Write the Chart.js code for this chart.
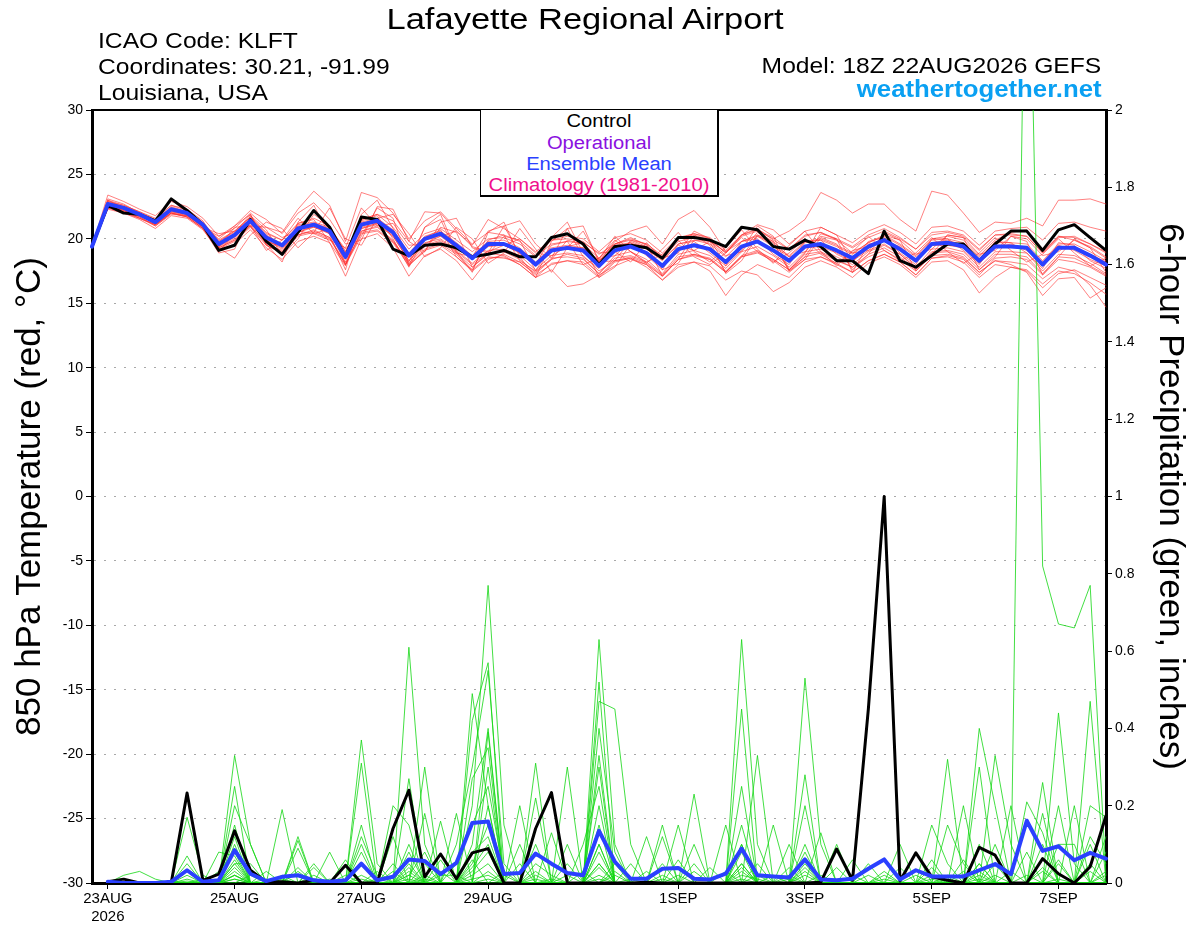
<!DOCTYPE html>
<html>
<head>
<meta charset="utf-8">
<title>Lafayette Regional Airport - GEFS 850 hPa Temperature / Precipitation</title>
<script src="https://cdn.jsdelivr.net/npm/chart.js@4.4.1/dist/chart.umd.min.js"></script>
<style>
  body { margin: 0; background: #fff; }
  #wrap { position: relative; width: 1200px; height: 927px; overflow: hidden; }
  #chart { position: absolute; left: 0; top: 0; }
  .lbl { position: absolute; font-family: "Liberation Sans", Arial, sans-serif; line-height: 1; white-space: nowrap; color: #000; }
  .l { transform-origin: left center; transform: scaleX(1.12); }
  .r { transform-origin: right center; transform: scaleX(1.12); }
  .c { transform: translateX(-50%) scaleX(1.12); }
  #legendBox { position: absolute; left: 480px; top: 110px; width: 236px; height: 85px; background: #fff;
               border-left: 1px solid #000; border-right: 2px solid #000; border-bottom: 2px solid #000; }
</style>
</head>
<body>
<div id="wrap">
  <canvas id="chart" width="1200" height="927"></canvas>

  <div class="lbl" style="left:585px; top:4px; font-size:30px; transform: translateX(-50%) scaleX(1.15);">Lafayette Regional Airport</div>
  <div class="lbl l" style="left:98px; top:30px; font-size:22px;">ICAO Code: KLFT</div>
  <div class="lbl l" style="left:98px; top:56px; font-size:22px;">Coordinates: 30.21, -91.99</div>
  <div class="lbl l" style="left:98px; top:82px; font-size:22px;">Louisiana, USA</div>
  <div class="lbl r" style="right:99px; top:55px; font-size:22px;">Model: 18Z 22AUG2026 GEFS</div>
  <div class="lbl r" style="right:98px; top:78px; font-size:23px; font-weight:bold; color:#0aa0f2;">weathertogether.net</div>

  <div id="legendBox"></div>
  <div class="lbl c" style="left:599px; top:112px; font-size:18px; color:#000;">Control</div>
  <div class="lbl c" style="left:599px; top:134px; font-size:18px; color:#8a10e0;">Operational</div>
  <div class="lbl c" style="left:599px; top:155px; font-size:18px; color:#2a40ff;">Ensemble Mean</div>
  <div class="lbl c" style="left:599px; top:176px; font-size:18px; color:#f0108c;">Climatology (1981-2010)</div>
</div>

<script>
// 6-hourly steps from 18Z 22AUG2026 to 18Z 07SEP2026 (65 steps)
const startUTC = Date.UTC(2026, 7, 22, 18);
const stepCount = 65;

// date ticks on the x axis (index of the 6-hour step and its text)
const tickIndex = [1, 9, 17, 25, 37, 45, 53, 61];
const tickText = [['23AUG', '2026'], '25AUG', '27AUG', '29AUG', '1SEP', '3SEP', '5SEP', '7SEP'];

// 850 hPa temperature, deg C
const ctlTemp = [
  19.4,22.6,22.0,21.9,21.4,23.1,22.2,21.1,19.1,19.5,
  21.5,19.8,18.8,20.5,22.2,20.9,18.6,21.7,21.5,19.2,
  18.7,19.5,19.6,19.3,18.6,18.8,19.1,18.6,18.6,20.1,
  20.4,19.6,18.0,19.4,19.5,19.3,18.5,20.1,20.1,19.9,
  19.4,20.9,20.7,19.4,19.2,19.9,19.4,18.3,18.3,17.3,
  20.6,18.3,17.8,18.7,19.6,19.6,18.3,19.6,20.6,20.6,
  19.1,20.7,21.1,20.1,19.1];
const meanTemp = [
  19.4,22.7,22.4,21.9,21.3,22.3,22.0,21.1,19.6,20.3,
  21.4,20.1,19.5,20.8,21.1,20.6,18.6,21.1,21.4,20.5,
  18.7,20.0,20.4,19.5,18.5,19.6,19.6,19.1,18.0,19.1,
  19.3,19.1,17.9,19.1,19.4,18.9,17.9,19.2,19.5,19.2,
  18.2,19.4,19.8,19.1,18.3,19.4,19.6,19.1,18.5,19.4,
  19.9,19.2,18.3,19.6,19.7,19.4,18.3,19.4,19.4,19.3,
  18.0,19.3,19.3,18.7,18.0];

// ensemble member temperatures
const t01 = [19.4,23.0,22.6,22.1,21.6,22.6,22.2,21.3,19.9,20.6,21.7,20.4,19.9,21.2,21.6,21.0,19.0,21.5,21.9,20.9,19.2,20.4,20.8,19.9,19.0,20.0,20.1,19.6,18.6,19.6,19.8,19.6,18.5,19.6,19.9,19.4,18.5,19.8,20.1,19.8,19.0,20.2,20.6,20.0,20.6,21.5,23.6,23.0,22.0,22.7,22.7,21.5,20.6,23.7,23.4,22.0,20.5,21.3,21.2,21.6,21.0,23.0,23.0,23.1,22.7];
const t02 = [19.4,22.4,22.1,21.7,21.0,22.0,21.7,20.8,19.3,19.9,21.0,19.7,19.0,20.3,20.6,20.1,18.0,20.6,20.9,19.9,18.1,19.4,19.8,18.9,17.8,18.9,19.0,18.4,17.4,18.5,18.6,18.4,17.3,18.5,18.7,18.2,17.2,18.6,18.8,18.5,17.5,18.7,19.1,18.4,17.6,18.6,18.9,18.3,17.8,18.6,19.1,18.4,17.5,18.7,18.8,18.5,17.4,18.3,18.2,18.0,16.9,17.8,17.5,16.4,14.7];
const t03 = [19.4,22.9,22.5,21.8,21.2,22.5,22.1,21.0,19.5,20.1,21.3,19.9,19.2,20.5,21.0,20.4,18.2,20.8,21.2,20.2,18.3,19.7,20.0,19.1,18.1,19.1,19.2,18.7,17.6,18.7,18.9,18.7,17.5,18.3,18.5,18.0,16.8,18.0,18.2,17.5,15.6,17.2,18.0,17.5,17.0,18.2,18.6,18.0,17.4,18.3,18.8,18.2,17.2,18.5,18.7,18.4,17.2,18.5,18.6,18.4,17.2,18.4,18.2,17.8,17.1];
const t04 = [19.4,23.4,22.9,22.3,21.8,22.9,22.5,21.6,20.2,20.8,22.0,20.9,20.5,22.3,23.7,22.6,19.8,23.6,23.2,22.0,20.0,21.4,22.1,20.8,19.6,20.5,20.3,19.8,18.7,19.9,20.0,19.8,18.8,19.6,20.1,19.5,18.6,20.0,20.4,20.0,18.9,20.3,20.8,19.9,19.2,20.2,20.5,19.9,19.3,20.1,20.6,20.0,19.2,20.3,20.5,20.2,19.1,20.3,20.4,20.2,18.9,20.1,20.2,19.6,19.0];
const t05 = [19.4,22.3,22.0,21.5,20.8,21.8,21.6,20.7,19.1,19.6,20.7,19.3,18.4,19.8,20.2,19.7,17.1,20.0,20.4,19.3,17.1,18.7,19.2,18.3,16.8,18.4,18.8,18.2,17.3,18.4,18.8,18.5,17.3,18.7,19.0,18.4,17.3,18.8,19.1,18.7,17.7,19.0,19.4,18.7,17.8,19.0,19.2,18.6,18.0,19.0,19.5,18.8,17.8,19.2,19.3,19.0,17.8,19.0,19.0,18.9,17.5,18.8,18.7,18.1,17.3];
const t06 = [19.4,22.8,22.3,21.8,21.5,22.2,21.9,21.2,19.8,20.5,21.6,20.3,19.6,21.0,21.2,20.8,18.8,21.3,21.6,20.7,18.9,20.2,20.6,19.7,18.7,19.8,19.9,19.3,18.2,19.3,19.5,19.3,18.2,19.8,20.6,21.0,19.6,21.5,22.2,20.9,19.0,19.8,20.2,19.4,18.6,19.7,19.9,19.4,18.8,19.7,20.2,19.5,18.6,19.9,20.0,19.7,18.6,19.7,19.7,19.6,18.3,19.6,19.6,19.0,18.3];
const t07 = [19.4,22.6,22.2,21.6,21.1,22.0,21.8,20.9,20.2,21.0,22.2,21.5,20.4,22.0,22.8,21.5,19.6,19.9,22.5,22.3,19.8,19.0,21.3,21.6,19.3,18.9,21.0,21.4,19.6,18.5,20.8,21.0,18.2,18.3,19.9,19.6,17.1,18.4,20.3,19.5,17.4,18.6,20.3,19.8,17.5,18.4,20.1,19.6,17.6,18.8,20.5,19.9,17.5,18.8,20.3,20.1,17.6,18.6,20.2,19.8,17.2,18.6,20.0,19.3,17.4];
const t08 = [19.4,23.1,22.7,22.0,21.4,22.4,22.0,21.2,19.3,18.5,20.3,21.3,20.8,19.3,20.5,22.4,20.0,19.5,21.6,21.9,20.4,18.6,19.3,20.9,20.0,18.1,18.9,20.8,19.2,17.4,19.3,20.6,18.4,18.7,19.8,19.3,18.4,19.5,19.1,19.8,18.7,19.0,20.5,19.8,18.6,19.0,20.2,19.9,18.9,19.1,20.3,19.9,18.8,19.2,20.3,20.1,18.8,19.1,20.2,20.0,18.7,19.0,19.9,19.4,18.6];
const t09 = [19.4,22.5,22.3,21.9,21.2,22.1,21.9,21.0,20.0,21.0,21.9,19.6,18.2,21.3,22.6,20.3,17.6,21.9,23.0,20.8,17.9,20.9,21.9,19.0,17.4,20.5,21.3,18.6,17.0,19.8,20.8,18.6,17.7,19.5,19.7,18.7,17.6,19.6,19.8,18.9,17.9,19.8,20.0,18.8,18.0,19.8,19.9,18.8,18.2,19.8,20.1,18.9,18.0,20.0,20.0,19.1,18.0,19.8,19.7,18.9,17.7,19.7,19.5,18.3,17.7];
const t10 = [19.4,22.6,22.4,21.9,21.3,22.2,22.0,21.1,19.4,20.2,21.2,19.9,19.3,20.5,20.9,20.4,18.4,20.8,21.1,20.2,18.3,19.5,19.9,19.0,18.0,18.9,18.7,18.0,17.0,17.6,16.3,16.5,17.2,17.9,18.4,18.0,17.1,18.4,18.8,18.4,17.4,18.6,19.0,18.4,17.6,18.8,19.0,18.4,17.8,18.8,19.3,18.6,17.6,19.0,19.1,18.8,17.6,18.8,18.8,18.6,17.3,18.6,18.5,17.9,17.2];
const t11 = [19.4,22.9,22.6,22.1,21.5,22.4,22.1,21.2,19.8,20.6,21.7,20.5,19.9,21.1,21.3,20.9,19.0,21.5,21.9,21.4,19.8,22.1,22.0,20.6,19.5,21.5,20.8,20.0,19.0,19.9,20.2,20.0,19.0,20.1,20.4,19.9,18.9,20.1,20.4,20.1,19.1,20.3,20.7,20.1,19.2,20.3,20.5,20.0,19.4,20.3,20.8,20.1,19.2,20.5,20.6,20.3,19.2,20.3,20.3,20.2,18.9,20.2,20.1,19.6,18.9];
const t12 = [19.4,22.7,22.2,21.7,21.1,22.0,21.7,20.8,18.9,19.2,21.8,20.7,18.7,20.0,21.9,21.0,18.0,20.2,22.4,21.6,18.0,19.0,20.9,20.5,17.8,18.8,20.2,19.9,17.5,18.4,19.9,19.6,17.0,17.8,19.6,19.4,17.6,18.1,19.9,19.8,17.3,18.3,20.2,19.7,17.5,18.6,20.4,20.0,17.4,19.6,19.8,19.4,18.2,19.5,19.5,19.3,18.1,19.3,19.6,19.1,18.2,19.5,19.1,18.4,17.9];
const t13 = [19.4,22.5,22.2,21.8,21.3,22.2,21.9,20.9,19.3,19.9,21.0,19.6,19.1,20.3,20.7,20.1,18.1,20.5,20.7,19.8,18.0,19.2,19.6,18.8,17.6,18.6,18.5,18.2,17.2,18.0,18.3,18.0,17.0,18.2,18.5,17.8,16.8,17.8,18.2,17.9,16.8,17.5,17.2,15.9,16.6,17.8,18.3,17.8,17.0,18.1,18.6,18.0,17.0,18.2,18.3,17.6,15.8,17.0,17.8,17.5,16.2,17.3,17.6,17.0,16.4];
const t14 = [19.4,22.8,22.5,22.0,21.4,22.3,22.0,21.0,19.6,20.4,21.4,20.1,19.6,20.8,21.0,20.7,18.7,21.2,21.5,20.5,18.8,20.0,20.3,19.5,18.6,19.7,19.6,19.2,18.1,19.2,19.4,19.2,18.0,19.2,19.5,19.0,18.0,19.3,19.5,19.1,18.1,19.3,19.7,19.0,18.2,19.3,19.4,18.9,18.3,19.1,19.6,18.8,17.7,18.9,19.0,18.6,17.4,18.3,18.0,17.4,15.6,16.9,17.0,15.4,16.2];
const t15 = [19.4,22.4,22.3,22.0,21.4,22.6,22.3,21.4,19.4,20.9,21.0,19.1,19.9,21.6,20.4,19.9,19.3,22.4,21.0,19.8,18.2,20.9,21.5,18.9,18.6,20.6,21.0,18.8,18.0,20.1,21.3,18.9,18.3,19.3,19.7,19.2,18.3,19.6,19.9,19.6,18.6,19.8,20.3,19.5,18.7,19.8,20.0,19.5,18.9,19.7,20.3,19.6,18.7,20.0,20.2,19.9,18.7,19.9,20.5,20.7,19.0,20.2,19.9,19.3,18.5];
const t16 = [19.4,22.6,22.1,21.6,21.0,21.9,21.8,21.0,19.0,20.4,21.9,19.5,18.9,21.2,21.5,19.7,17.9,21.4,21.8,20.0,17.8,20.1,20.7,18.6,17.6,19.9,20.3,18.3,17.5,19.5,19.8,18.0,18.5,19.9,19.0,18.2,18.8,19.9,18.6,18.0,18.9,20.1,19.0,18.2,18.9,20.0,18.8,18.1,19.0,20.2,19.1,18.3,18.9,20.1,19.0,18.1,18.9,20.1,19.1,18.2,18.8,20.0,18.9,17.9,18.5];
const t17 = [19.4,23.0,22.4,21.9,21.1,22.1,21.8,20.9,20.4,20.6,21.0,20.9,20.1,20.6,20.4,20.8,19.2,20.6,21.0,21.2,19.5,19.6,20.2,20.6,19.4,19.0,19.5,20.0,18.9,18.7,19.4,19.7,18.9,19.0,18.2,19.7,18.5,18.9,20.6,20.0,17.9,19.1,21.0,20.2,17.6,18.9,20.9,20.3,18.2,19.5,20.0,19.3,18.4,19.7,19.9,19.5,18.4,19.5,19.5,19.3,18.1,19.3,19.4,18.8,18.2];
const t18 = [19.4,22.7,22.5,22.0,21.3,22.3,22.0,21.0,19.6,20.3,21.5,20.2,19.5,20.9,21.1,20.7,18.7,21.0,21.3,20.6,18.8,20.0,20.3,19.6,18.6,19.6,19.5,19.0,18.0,19.0,19.3,19.2,18.4,20.2,19.0,18.1,19.2,20.5,19.0,18.2,19.3,20.7,19.2,18.1,19.5,20.6,19.0,17.9,19.1,19.4,19.9,19.3,18.3,19.6,19.7,19.5,18.3,19.5,19.4,19.4,18.0,19.4,19.3,18.8,18.1];
const t19 = [19.4,22.6,22.3,21.8,21.2,22.2,21.9,21.0,19.4,20.0,21.1,19.8,19.4,20.7,20.9,20.5,18.5,20.9,21.2,20.3,18.6,19.9,20.2,19.3,18.4,19.4,19.5,18.9,17.9,19.0,19.3,19.3,18.3,19.6,20.0,19.6,18.7,20.0,20.3,19.9,18.9,20.3,21.1,20.7,19.6,20.6,20.9,20.3,19.7,20.6,21.1,20.5,19.6,20.9,21.0,20.6,19.5,20.6,20.8,20.9,19.9,21.2,21.3,20.9,20.6];
const t20 = [19.4,22.4,22.0,21.6,21.1,22.0,21.7,20.8,19.2,19.8,20.9,19.5,18.9,20.2,20.5,20.0,18.0,20.4,20.6,19.7,17.9,19.1,19.5,18.6,17.5,18.5,18.6,18.0,17.0,18.1,18.3,18.2,17.1,18.3,18.6,18.1,17.1,18.4,18.7,18.4,17.4,18.6,18.9,18.3,17.4,18.4,18.6,18.1,17.4,18.3,18.8,18.2,17.2,18.5,18.6,18.2,17.0,18.0,17.8,17.6,16.5,17.5,17.3,16.6,15.7];
const tempMembers = [t01,t02,t03,t04,t05,t06,t07,t08,t09,t10,t11,t12,t13,t14,t15,t16,t17,t18,t19,t20];

// 6-hour precipitation, inches (no value at the analysis time)
const ctlPrecip = [
  null,.003,.01,0,0,0,.233,.007,.023,.135,
  .033,.003,.003,0,.007,0,.046,0,0,.141,
  .24,.016,.075,.011,.078,.089,0,0,.141,.234,
  0,0,0,0,0,.002,0,0,0,0,
  0,0,0,0,0,0,.002,.088,.007,.45,
  1.0,.005,.078,.016,.007,0,.092,.072,0,0,
  .063,.024,0,.042,.174];
const meanPrecip = [
  null,.003,0,0,0,.003,.033,.003,.007,.085,
  .024,.005,.016,.02,.007,.003,.007,.05,.007,.016,
  .061,.057,.023,.052,.155,.159,.023,.026,.076,.05,
  .026,.02,.135,.055,.011,.011,.037,.039,.011,.009,
  .024,.089,.02,.017,.014,.061,.009,.007,.011,.037,
  .061,.009,.033,.017,.017,.017,.033,.049,.023,.161,
  .083,.095,.059,.078,.063];

// ensemble member precipitation
const p01 = [null,0,0,0,0,0,.03,0,0,.12, 0,0,0,0,0,0,0,0,0,0, .61,.1,0,0,0,.3,0,0,0,0, 0,0,.2,0,0,0,0,0,0,0, 0,.1,0,0,0,0,0,0,0,0, 0,0,0,0,0,0,.05,0,0,2.8, .82,.67,.66,.77,.02];
const p02 = [null,0,.02,.03,.01,0,0,0,0,.33, .1,0,0,0,0,0,0,.37,.05,0, 0,0,0,0,.2,.77,.15,0,0,0, 0,0,.1,0,0,0,0,0,.05,0, 0,0,0,0,0,.53,.1,0,0,0, 0,0,0,0,0,.06,0,0,0,0, 0,.44,.05,0,0];
const p03 = [null,0,0,0,0,0,.17,.02,0,.25, 0,0,.02,0,0,0,0,.31,0,0, 0,.3,0,0,.49,.2,0,0,.1,0, 0,0,.63,.1,0,0,.12,0,0,0, 0,.05,0,0,0,0,0,0,0,0, 0,0,0,.15,.05,0,0,0,0,0, 0,0,0,.47,0];
const p04 = [null,0,0,0,0,0,.07,0,0,.2, .1,0,0,.12,0,0,0,.1,0,0, .27,0,.16,0,.42,.57,0,.2,0,0, .3,0,.05,0,0,0,0,0,0,0, 0,0,.33,0,0,.28,0,0,0,0, 0,0,0,0,0,0,0,.33,.1,0, .18,0,0,0,0];
const p05 = [null,0,0,0,0,0,.05,0,0,.15, 0,0,.19,0,.05,0,0,0,0,.2, .15,0,0,.18,0,.39,0,0,.31,0, 0,0,.47,.45,.1,0,0,0,0,0, 0,.63,.1,0,0,0,0,0,0,0, 0,0,0,0,0,0,.1,0,0,0, 0,0,0,.2,.17];
const p06 = [null,0,0,0,0,0,0,0,0,.1, 0,0,0,.11,0,.08,0,.15,0,.12, 0,.18,0,0,.27,.35,0,0,0,.13, 0,0,.33,0,0,0,0,.15,0,0, 0,.45,0,0,.1,0,0,.1,0,0, 0,0,0,0,0,0,.4,.2,0,0, 0,.2,0,0,.12];
const p07 = [null,0,0,0,0,0,.03,0,.08,.07, 0,.03,0,.09,0,0,.06,0,0,0, .1,0,0,.1,.3,.55,.05,0,0,0, .1,0,.52,0,0,.12,0,0,.23,0, 0,.25,0,0,0,.2,0,0,0,0, .03,0,0,0,0,.2,0,0,0,.21, .13,0,0,0,0];
const p08 = [null,0,0,0,0,0,0,0,0,.05, .05,0,0,0,.04,0,0,.12,.02,0, .05,0,.06,0,.1,.4,0,0,.22,0, 0,.1,.25,0,0,0,.15,0,0,0, .15,0,0,.15,0,0,0,0,0,.05, 0,0,0,0,.32,0,.3,0,0,0, 0,0,.2,0,0];
const p09 = [null,0,0,0,0,0,.02,0,0,.05, 0,0,0,0,0,0,0,.05,0,.03, 0,.05,0,0,.08,.12,0,.05,0,0, 0,0,.4,.08,0,0,0,0,0,0, 0,.15,0,0,0,.1,0,0,.06,0, 0,.1,0,.06,0,0,0,.1,0,0, .26,0,0,.1,0];
const p10 = [null,0,0,0,0,0,0,0,0,.03, 0,0,.01,0,0,0,0,0,0,0, .02,.08,0,.05,.15,.25,.02,0,0,0, .05,0,.1,0,.05,0,0,0,0,.04, 0,0,.05,0,.04,0,.13,0,0,0, 0,0,.08,0,0,0,0,0,.2,0, 0,.06,0,0,0];
const p11 = [null,0,0,0,0,0,0,0,.03,.08, 0,0,0,0,0,0,0,.05,0,0, .08,0,.03,0,0,.2,0,0,.05,.02, 0,0,.3,0,0,0,.05,0,0,0, 0,.1,0,0,0,.05,0,0,0,0, .02,0,0,0,.15,.05,0,0,0,.08, 0,0,0,.12,.05];
const p12 = [null,0,0,0,0,0,.01,0,0,.02, 0,0,0,.04,0,0,0,.02,0,0, .03,0,0,0,.05,.15,0,.1,0,0, 0,0,0,.05,0,0,0,.06,0,0, 0,.05,0,0,0,.08,0,.04,0,0, 0,0,0,.04,0,0,.05,0,0,0, .1,0,0,0,.08];
const p13 = [null,0,0,0,0,0,0,0,0,0, .02,0,0,0,.02,0,0,0,.03,0, 0,.02,0,0,.03,.08,0,0,.03,0, 0,0,.15,0,0,.03,0,0,.1,0, 0,.08,0,0,.02,0,0,0,0,.02, 0,.04,0,0,0,.03,0,.05,0,0, 0,.1,.1,0,0];
const p14 = [null,0,0,0,0,0,0,0,0,.01, 0,.01,0,0,0,0,.02,0,0,.05, 0,0,.02,.02,0,0,.03,0,0,.01, 0,.03,0,.02,0,0,.02,0,0,0, .03,0,0,.02,0,0,.02,0,.02,0, 0,0,.02,0,.02,0,0,0,.03,0, 0,0,0,.05,0];
const p15 = [null,0,0,0,0,0,0,.01,0,0, 0,0,0,0,0,.01,0,0,0,0, .01,0,0,0,.02,.05,0,0,0,0, .02,0,.05,0,.01,0,0,.02,0,0, 0,.02,.01,0,0,0,0,0,0,0, .01,0,0,.01,0,0,.02,0,0,0, .03,0,0,0,.03];
const p16 = [null,0,0,0,0,0,0,0,0,.02, 0,0,0,0,0,0,0,.01,0,0, 0,.01,0,0,0,.03,0,0,.01,0, 0,0,.02,0,0,0,0,0,0,0, 0,.01,0,0,0,.02,0,0,0,0, 0,0,0,0,.01,0,0,0,0,.02, 0,.01,0,0,0];
const p17 = [null,0,0,0,0,0,.005,0,0,.06, 0,0,.005,0,0,0,0,.08,0,0, .02,0,0,0,.06,0,0,0,.02,0, 0,0,.08,0,0,0,0,0,.03,0, 0,0,.02,0,0,.03,0,0,0,0, 0,0,0,0,0,0,.03,0,0,0, 0,0,0,.03,0];
const p18 = [null,0,0,0,0,0,0,0,0,.04, 0,0,0,0,0,0,0,0,.01,0, 0,0,0,0,.04,.1,0,0,0,0, 0,0,0,.03,0,0,0,0,0,0, 0,.04,0,0,.01,0,0,0,0,0, 0,0,0,0,0,0,0,.02,0,0, 0,.05,0,0,0];
const p19 = [null,0,0,0,0,.005,0,0,0,.02, 0,0,0,.03,0,0,0,0,0,0, .04,0,0,0,.01,.02,0,0,0,0, 0,0,.04,0,0,0,.01,0,0,0, 0,0,0,0,0,.04,0,0,0,0, 0,0,0,.02,0,0,0,0,0,0, .04,0,0,0,.02];
const p20 = [null,0,0,0,0,0,0,0,0,.01, 0,0,0,0,0,0,0,0,0,0, 0,0,0,0,0,.01,0,0,0,0, 0,0,.01,0,0,0,0,0,0,0, 0,.03,0,0,0,0,0,0,0,0, 0,0,0,0,0,0,.01,0,0,0, 0,0,0,0,0];
const precipMembers = [p01,p02,p03,p04,p05,p06,p07,p08,p09,p10,p11,p12,p13,p14,p15,p16,p17,p18,p19,p20];

const BLUE = '#2a40ff';
const FONT = "'Liberation Sans', Arial, sans-serif";

const MON = ['JAN','FEB','MAR','APR','MAY','JUN','JUL','AUG','SEP','OCT','NOV','DEC'];
const timeLabels = [];
for (let i = 0; i < stepCount; i++) {
  const d = new Date(startUTC + i * 6 * 3600 * 1000);
  timeLabels.push(String(d.getUTCHours()).padStart(2, '0') + 'Z ' + d.getUTCDate() + MON[d.getUTCMonth()] + d.getUTCFullYear());
}

Chart.defaults.font.family = FONT;
Chart.defaults.color = '#000';

const datasets = [
  { label: 'Ensemble Mean precip', data: meanPrecip, yAxisID: 'y1', borderColor: BLUE, borderWidth: 4, order: 0 },
  { label: 'Ensemble Mean', data: meanTemp, yAxisID: 'y', borderColor: BLUE, borderWidth: 4, order: 0 },
  { label: 'Control precip', data: ctlPrecip, yAxisID: 'y1', borderColor: '#000', borderWidth: 3, order: 1 },
  { label: 'Control', data: ctlTemp, yAxisID: 'y', borderColor: '#000', borderWidth: 3, order: 1 }
];
precipMembers.forEach((m, k) => {
  datasets.push({ label: 'precip member ' + (k + 1), data: m, yAxisID: 'y1',
    borderColor: 'rgba(20,215,20,0.8)', borderWidth: 1, order: 2 });
});
tempMembers.forEach((m, k) => {
  datasets.push({ label: 'temp member ' + (k + 1), data: m, yAxisID: 'y',
    borderColor: 'rgba(255,45,45,0.6)', borderWidth: 1, order: 3 });
});

new Chart(document.getElementById('chart'), {
  type: 'line',
  data: { labels: timeLabels, datasets: datasets },
  options: {
    responsive: false,
    animation: false,
    devicePixelRatio: 1,
    layout: { padding: { top: 110, left: 0, right: 0, bottom: 0 } },
    elements: {
      point: { radius: 0 },
      line: { tension: 0, borderJoinStyle: 'round', borderCapStyle: 'round' }
    },
    plugins: { legend: { display: false }, tooltip: { enabled: false } },
    scales: {
      x: {
        type: 'category',
        position: 'bottom',
        afterBuildTicks: s => { s.ticks = s.ticks.filter(t => tickIndex.includes(t.value)); },
        afterFit: s => { s.height = 44; },
        ticks: {
          autoSkip: false, maxRotation: 0, padding: 1,
          font: { size: 15 }, color: '#000',
          callback: v => tickText[tickIndex.indexOf(v)]
        },
        grid: { drawOnChartArea: false, tickLength: 6, tickColor: '#000', tickWidth: 1 },
        border: { color: '#000', width: 3 }
      },
      xTop: {
        type: 'category',
        position: 'top',
        afterFit: s => { s.height = 0; },
        ticks: { display: false },
        grid: { display: false, drawTicks: false },
        border: { display: true, color: '#000', width: 2 }
      },
      y: {
        type: 'linear',
        position: 'left',
        min: -30, max: 30,
        afterFit: s => { s.width = 92; },
        ticks: { stepSize: 5, font: { size: 14 }, color: '#000', padding: 3 },
        grid: { color: '#a8a8a8', lineWidth: 1, tickColor: '#000', tickLength: 6, tickWidth: 1 },
        border: { color: '#000', width: 3, dash: [2, 8] },
        title: { display: true, text: '850 hPa Temperature (red, °C)', font: { size: 35 }, color: '#000', padding: { top: 9 } }
      },
      y1: {
        type: 'linear',
        position: 'right',
        min: 0, max: 2,
        afterFit: s => { s.width = 94; },
        ticks: { stepSize: 0.2, font: { size: 14 }, color: '#000', padding: 3,
          callback: v => String(Math.round(v * 10) / 10) },
        grid: { drawOnChartArea: false, tickColor: '#000', tickLength: 6, tickWidth: 1 },
        border: { color: '#000', width: 3 },
        title: { display: true, text: '6-hour Precipitation (green, inches)', font: { size: 35 }, color: '#000', padding: { top: 9 } }
      }
    }
  }
});
</script>
</body>
</html>
